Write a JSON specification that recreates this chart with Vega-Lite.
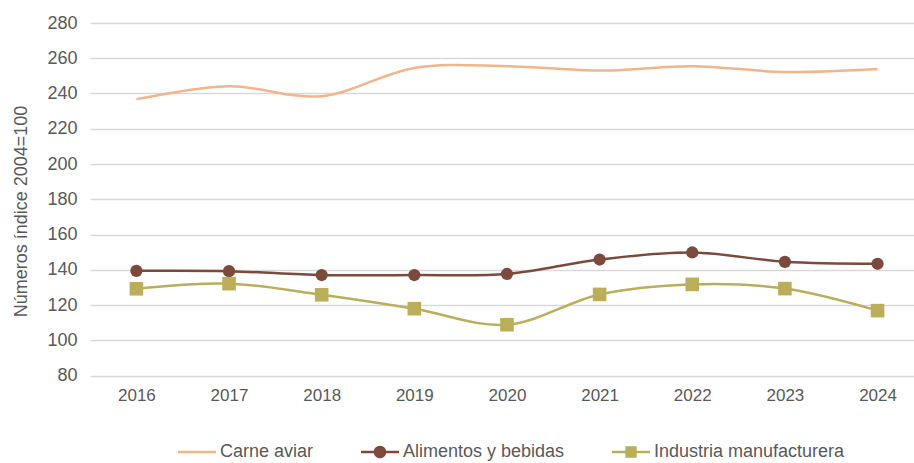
{
  "$schema": "https://vega.github.io/schema/vega-lite/v6.json",
  "autosize": {"type": "none"},
  "padding": {"left": 90, "top": 23, "right": 0, "bottom": 87},
  "width": 824,
  "height": 352.5,
  "background": "white",
  "config": {
    "view": {"stroke": null},
    "font": "Liberation Sans",
    "axis": {"labelColor": "#595959", "titleColor": "#595959", "labelFont": "Liberation Sans", "titleFont": "Liberation Sans", "titleFontWeight": "normal"},
    "legend": {"labelFont": "Liberation Sans", "labelFontSize": 18, "labelColor": "#595959", "labelLimit": 0}
  },
  "data": {"values": [
    {"year": "2016", "series": "Carne aviar", "value": 236.8},
    {"year": "2017", "series": "Carne aviar", "value": 244.1},
    {"year": "2018", "series": "Carne aviar", "value": 238.5},
    {"year": "2019", "series": "Carne aviar", "value": 254.5},
    {"year": "2020", "series": "Carne aviar", "value": 255.5},
    {"year": "2021", "series": "Carne aviar", "value": 253.0},
    {"year": "2022", "series": "Carne aviar", "value": 255.5},
    {"year": "2023", "series": "Carne aviar", "value": 252.2},
    {"year": "2024", "series": "Carne aviar", "value": 253.9},
    {"year": "2016", "series": "Alimentos y bebidas", "value": 139.4},
    {"year": "2017", "series": "Alimentos y bebidas", "value": 139.2},
    {"year": "2018", "series": "Alimentos y bebidas", "value": 137.0},
    {"year": "2019", "series": "Alimentos y bebidas", "value": 137.0},
    {"year": "2020", "series": "Alimentos y bebidas", "value": 137.6},
    {"year": "2021", "series": "Alimentos y bebidas", "value": 145.8},
    {"year": "2022", "series": "Alimentos y bebidas", "value": 149.8},
    {"year": "2023", "series": "Alimentos y bebidas", "value": 144.5},
    {"year": "2024", "series": "Alimentos y bebidas", "value": 143.4},
    {"year": "2016", "series": "Industria manufacturera", "value": 129.2},
    {"year": "2017", "series": "Industria manufacturera", "value": 132.1},
    {"year": "2018", "series": "Industria manufacturera", "value": 125.8},
    {"year": "2019", "series": "Industria manufacturera", "value": 117.9},
    {"year": "2020", "series": "Industria manufacturera", "value": 108.8},
    {"year": "2021", "series": "Industria manufacturera", "value": 126.0},
    {"year": "2022", "series": "Industria manufacturera", "value": 131.7},
    {"year": "2023", "series": "Industria manufacturera", "value": 129.3},
    {"year": "2024", "series": "Industria manufacturera", "value": 116.8}
  ]},
  "encoding": {
    "x": {"field": "year", "type": "ordinal",
      "scale": {"type": "point", "padding": 0.447, "align": 0.56},
      "axis": {"title": null, "labelAngle": 0, "domain": false, "ticks": false, "labelFontSize": 17, "labelPadding": 12, "grid": false}},
    "y": {"field": "value", "type": "quantitative",
      "scale": {"domain": [80, 280], "nice": false, "zero": false},
      "axis": {"values": [80, 100, 120, 140, 160, 180, 200, 220, 240, 260, 280], "title": "Números índice 2004=100",
        "domain": false, "ticks": false, "labelFontSize": 18, "labelPadding": 13,
        "grid": true, "gridColor": "#d9d9d9", "gridWidth": 1.5,
        "titleFontSize": 18, "titleX": -69, "titleY": 188, "titleBaseline": "middle", "titleAngle": 270}}
  },
  "layer": [
    {
      "transform": [{"filter": "datum.series == 'Carne aviar'"}],
      "mark": {"type": "line", "interpolate": "cardinal", "strokeWidth": 2.5, "color": "#F2B48A"}
    },
    {
      "transform": [{"filter": "datum.series == 'Alimentos y bebidas'"}],
      "mark": {"type": "line", "interpolate": "cardinal", "strokeWidth": 2.5, "color": "#7B4A3C"}
    },
    {
      "transform": [{"filter": "datum.series == 'Industria manufacturera'"}],
      "mark": {"type": "line", "interpolate": "cardinal", "strokeWidth": 2.5, "color": "#BBAE5A"}
    },
    {
      "transform": [{"filter": "datum.series == 'Alimentos y bebidas'"}],
      "mark": {"type": "point", "shape": "circle", "filled": true, "size": 150, "color": "#7B4A3C", "opacity": 1}
    },
    {
      "transform": [{"filter": "datum.series == 'Industria manufacturera'"}],
      "mark": {"type": "point", "shape": "square", "filled": true, "size": 185, "color": "#BBAE5A", "opacity": 1}
    },
    {
      "transform": [{"filter": "datum.value < 0"}],
      "mark": {"type": "point", "filled": true},
      "encoding": {
        "fill": {"field": "series", "type": "nominal",
          "scale": {"domain": ["Carne aviar", "Alimentos y bebidas", "Industria manufacturera"], "range": ["#F2B48A", "#7B4A3C", "#BBAE5A"]},
          "legend": {"orient": "none", "legendX": 88, "legendY": 410, "direction": "horizontal", "title": null,
            "symbolSize": 1444, "columnPadding": 47, "symbolStrokeWidth": 0, "symbolOpacity": 1, "labelOffset": 4, "padding": 0, "labelLimit": 0}},
        "shape": {"field": "series", "type": "nominal",
          "scale": {"domain": ["Carne aviar", "Alimentos y bebidas", "Industria manufacturera"],
            "range": [
              "M-1,-0.066H1V0.066H-1Z",
              "M-1,-0.066H1V0.066H-1Z M-0.33,0A0.33,0.33 0 1,1 0.33,0A0.33,0.33 0 1,1 -0.33,0Z",
              "M-1,-0.066H1V0.066H-1Z M-0.3,-0.3H0.3V0.3H-0.3Z"
            ]},
          "legend": {"orient": "none", "legendX": 88, "legendY": 410, "direction": "horizontal", "title": null,
            "symbolSize": 1444, "columnPadding": 47, "symbolStrokeWidth": 0, "symbolOpacity": 1, "labelOffset": 4, "padding": 0, "labelLimit": 0}}
      }
    }
  ]
}
